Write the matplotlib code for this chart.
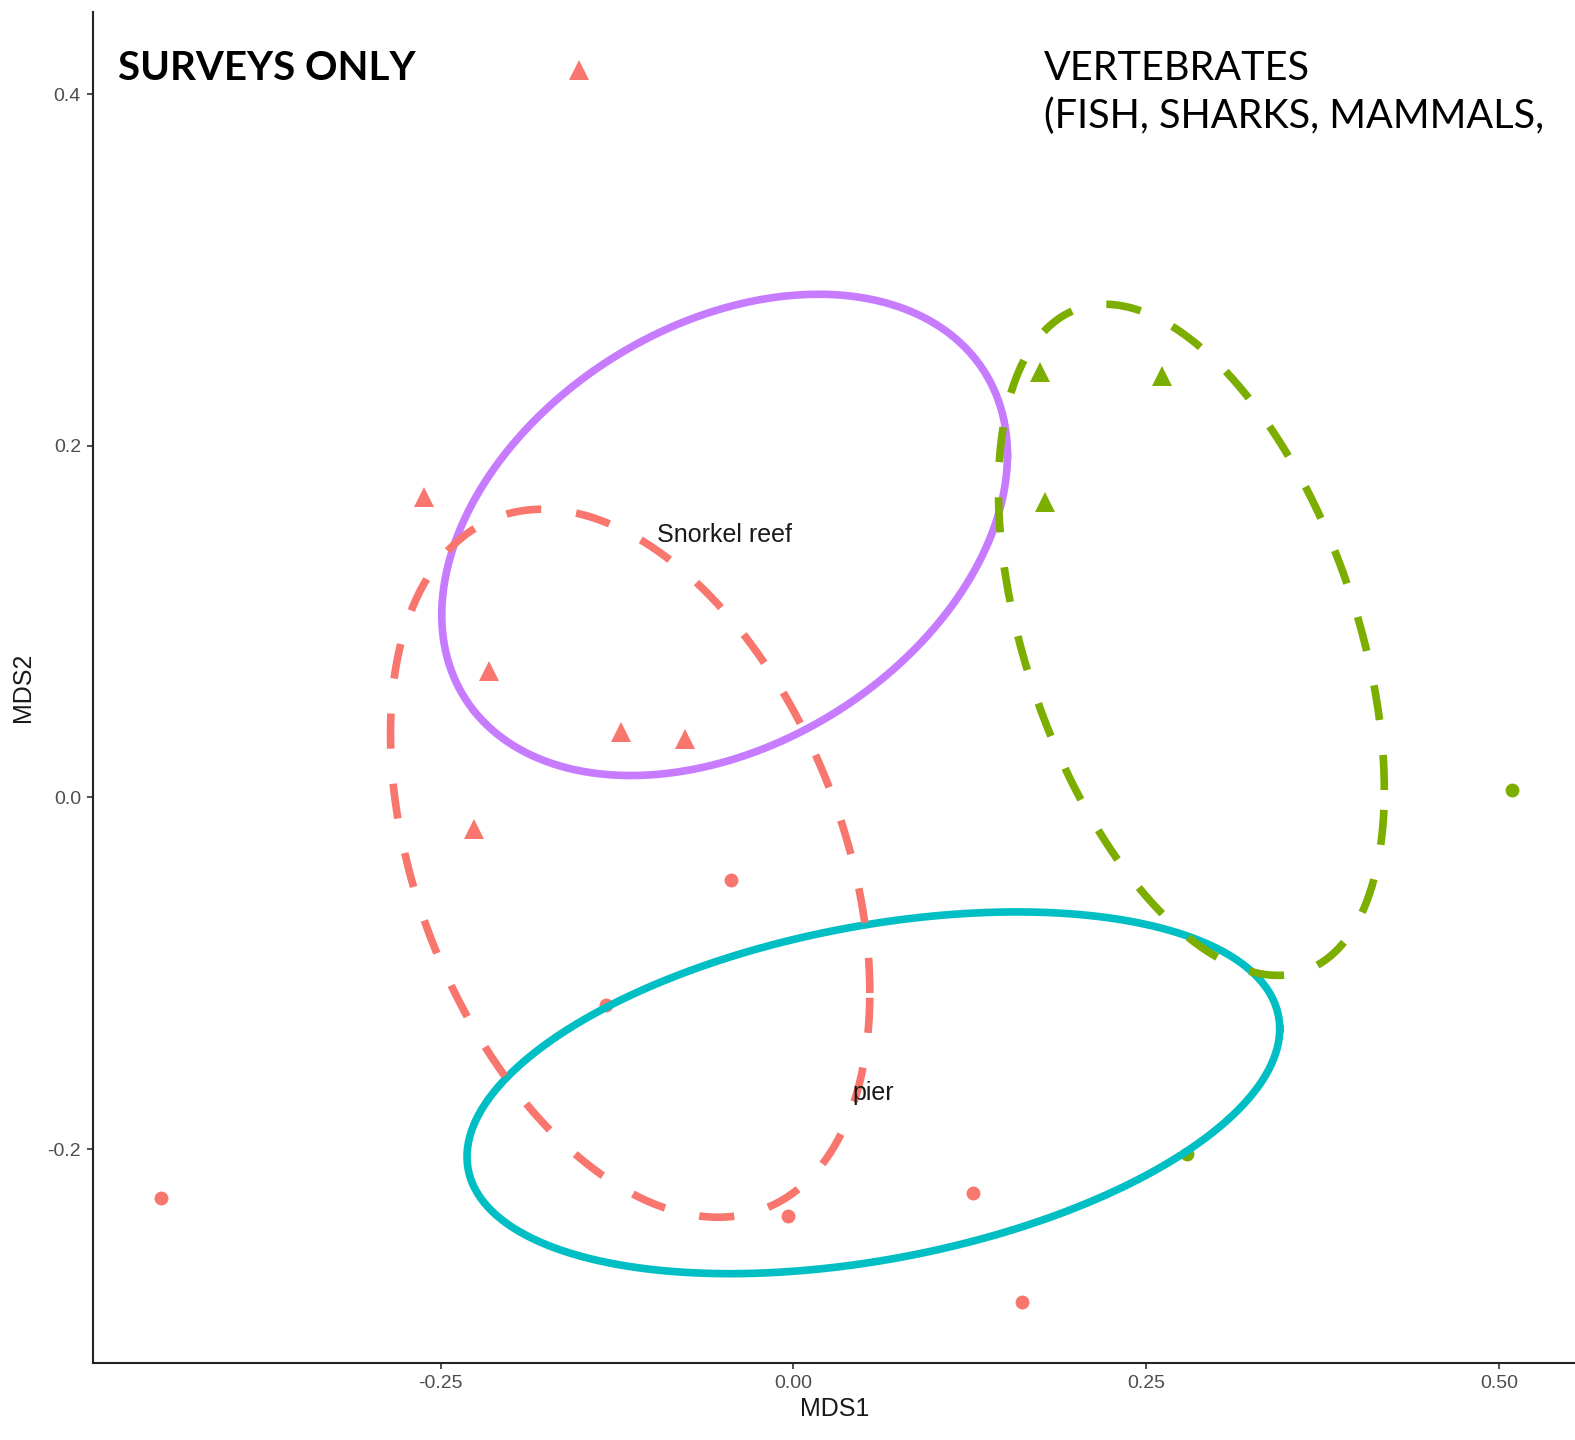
import numpy as np
import matplotlib
matplotlib.use("Agg")
import matplotlib.pyplot as plt

# ---------------- data ----------------
# red group: triangles (surveys) and circles
red_tri_x = [-0.152, -0.262, -0.216, -0.122, -0.077, -0.226]
red_tri_y = [0.414, 0.171, 0.072, 0.037, 0.033, -0.018]
red_dot_x = [-0.448, -0.044, -0.133, -0.004, 0.127, 0.162]
red_dot_y = [-0.228, -0.047, -0.118, -0.238, -0.225, -0.287]

# green group
green_tri_x = [0.175, 0.261, 0.178]
green_tri_y = [0.242, 0.240, 0.168]
green_dot_x = [0.509, 0.279]
green_dot_y = [0.004, -0.203]

# ellipses: centre, half width (x), half height (y), phase (deg)
ell_names = ["purple", "cyan", "red", "green"]
ell_cx = [-0.0488, 0.0566, -0.1157, 0.2819]
ell_cy = [0.1494, -0.1680, -0.0374, 0.0897]
ell_w = [0.2004, 0.2879, 0.1698, 0.1367]
ell_h = [0.1369, 0.1029, 0.2014, 0.1909]
ell_phi = [70.6, 69.3, 111.5, 116.6]
ell_dashed = [False, False, True, True]

# site labels
lab_text = ["Snorkel reef", "pier"]
lab_x = [-0.0488, 0.0566]
lab_y = [0.1494, -0.1680]

x_ticks = [-0.25, 0.0, 0.25, 0.50]
x_ticklabels = ["-0.25", "0.00", "0.25", "0.50"]
y_ticks = [-0.2, 0.0, 0.2, 0.4]
y_ticklabels = ["-0.2", "0.0", "0.2", "0.4"]

cols = {"red": "#F8766D", "green": "#7CAE00", "cyan": "#00BFC4", "purple": "#C77CFF"}

# ---------------- plot ----------------
plt.rcParams["font.family"] = ["Liberation Sans", "DejaVu Sans"]

fig = plt.figure(figsize=(15.75, 14.4), dpi=100)
ax = fig.add_axes([0.0593, 0.0535, 0.9407, 0.9382])

# points first, ellipses drawn over them
ax.plot(red_tri_x, red_tri_y, "^", color=cols["red"], ms=14.5, mew=0, zorder=2)
ax.plot(red_dot_x, red_dot_y, "o", color=cols["red"], ms=10, mew=0, zorder=2)
ax.plot(green_tri_x, green_tri_y, "^", color=cols["green"], ms=14.5, mew=0, zorder=2)
ax.plot(green_dot_x, green_dot_y, "o", color=cols["green"], ms=10, mew=0, zorder=2)

t = np.linspace(0, 2 * np.pi, 400)
for i, name in enumerate(ell_names):
    ex = ell_cx[i] + ell_w[i] * np.cos(t)
    ey = ell_cy[i] + ell_h[i] * np.cos(t - np.radians(ell_phi[i]))
    if ell_dashed[i]:
        ax.plot(ex, ey, color=cols[name], lw=5.5, dashes=(4.6, 4.6),
                dash_capstyle="butt", zorder=4)
    else:
        ax.plot(ex, ey, color=cols[name], lw=5.5, zorder=3)

for s, x, y in zip(lab_text, lab_x, lab_y):
    ax.text(x, y, s, ha="center", va="center", fontsize=18, color="#1a1a1a", zorder=5)

ax.set_xlim(-0.496, 0.5537)
ax.set_ylim(-0.3217, 0.4469)
ax.set_xticks(x_ticks)
ax.set_xticklabels(x_ticklabels)
ax.set_yticks(y_ticks)
ax.set_yticklabels(y_ticklabels)
ax.tick_params(labelsize=14, labelcolor="#4D4D4D", color="#333333",
               length=4, width=1.2, pad=5)
ax.set_xlabel("MDS1", fontsize=18, color="#1a1a1a", labelpad=3)
ax.set_ylabel("MDS2", fontsize=18, color="#1a1a1a", labelpad=9)

for side in ["top", "right"]:
    ax.spines[side].set_visible(False)
for side in ["left", "bottom"]:
    ax.spines[side].set_linewidth(1.5)
    ax.spines[side].set_color("#222222")

# slide annotations on top of the plot (second line runs off the slide edge)
fig.text(0.0752, 0.9442, "SURVEYS ONLY", fontsize=29, fontweight="bold",
         family=["Lato", "DejaVu Sans"], va="baseline", ha="left")
fig.text(0.6630, 0.9442, "VERTEBRATES", fontsize=28.5,
         family=["Lato", "DejaVu Sans"], va="baseline", ha="left")
fig.text(0.6630, 0.9114, "(FISH, SHARKS, MAMMALS,", fontsize=28.5,
         family=["Lato", "DejaVu Sans"], va="baseline", ha="left")

fig.savefig("out.png", dpi=100)
